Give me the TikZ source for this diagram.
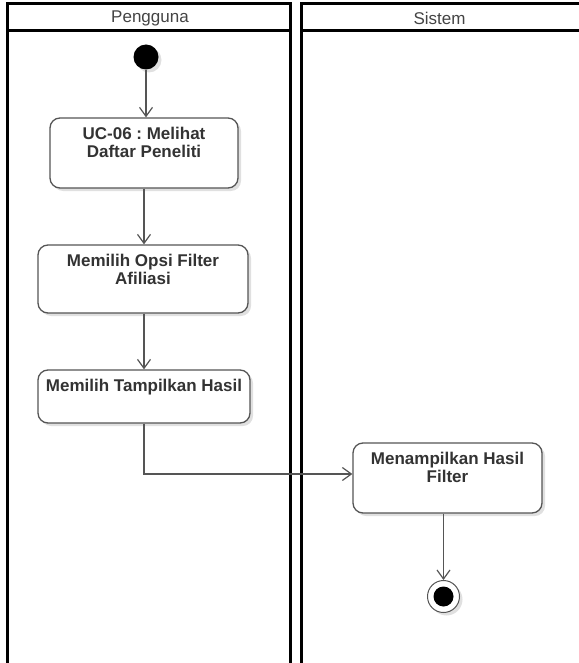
\documentclass[tikz,border=0pt]{standalone}
\usepackage{fontspec}
\setmainfont{Liberation Sans}
\frenchspacing
\usetikzlibrary{arrows.meta,shadows}
\definecolor{linegray}{HTML}{555555}
\definecolor{txtgray}{HTML}{333333}
\definecolor{hdrgray}{HTML}{444444}
\tikzset{
  lane/.style={line width=3pt,draw=black},
  act/.style={draw=linegray,line width=1.3pt,rounded corners=10pt,fill=white,
    drop shadow={shadow xshift=3pt,shadow yshift=-3pt,opacity=0.12,fill=black}},
  acttext/.style={anchor=north,inner sep=0pt,yshift=-10pt,align=center,
    text=txtgray,font=\fontsize{17}{17.5}\selectfont\bfseries},
  flow/.style={draw=linegray,line width=1.2pt,-{Straight Barb[length=9pt,width=13pt,line width=1.2pt]}},
  hdr/.style={text=hdrgray,font=\fontsize{17}{18}\selectfont,inner sep=0pt}
}
\begin{document}
\begin{tikzpicture}[x=1pt,y=-1pt]
\useasboundingbox[fill=white] (0,0) rectangle (578,663);
% swimlanes
\draw[lane] (7,666) -- (7,4) -- (290,4) -- (290,666);
\draw[lane] (7,31) -- (290,31);
\draw[lane] (301,666) -- (301,4) -- (581,4);
\draw[lane] (301,31) -- (581,31);
\node[hdr] (h1) at (150,18) {Pengguna};
\node[hdr] (h2) at (439.5,18) {Sistem};
% nodes
\node[circle,fill=black,minimum size=25pt,inner sep=0pt,
  drop shadow={shadow xshift=3pt,shadow yshift=-3pt,opacity=0.12,fill=black}] (start) at (146,57) {};
\node[act,minimum width=188pt,minimum height=70pt,
  label={[acttext]north:{UC-06 : Melihat\\Daftar Peneliti}}] (a1) at (144,153) {};
\node[act,minimum width=210pt,minimum height=68pt,
  label={[acttext]north:{Memilih Opsi Filter\\Afiliasi}}] (a2) at (143,279) {};
\node[act,minimum width=212pt,minimum height=53pt,
  label={[acttext]north:{Memilih Tampilkan Hasil}}] (a3) at (144,396.5) {};
\node[act,minimum width=189pt,minimum height=70pt,
  label={[acttext]north:{Menampilkan Hasil\\Filter}}] (a4) at (447.5,478) {};
\node[circle,draw=linegray,line width=1pt,fill=white,minimum size=32pt,inner sep=0pt,
  drop shadow={shadow xshift=3pt,shadow yshift=-3pt,opacity=0.12,fill=black}] (end) at (443.5,596.5) {};
\node[circle,fill=black,minimum size=20pt,inner sep=0pt] (endin) at (end.center) {};
% connectors
\draw[flow] (start) -- (start |- a1.north);
\draw[flow] (a1.south) -- (a1.south |- a2.north);
\draw[flow] (a2.south -| a3.north) -- (a3.north);
\draw[flow] (a3.south) |- ([yshift=4pt]a4.west);
\draw[flow] (a4.south -| end.north) -- (end.north);
\end{tikzpicture}
\end{document}
